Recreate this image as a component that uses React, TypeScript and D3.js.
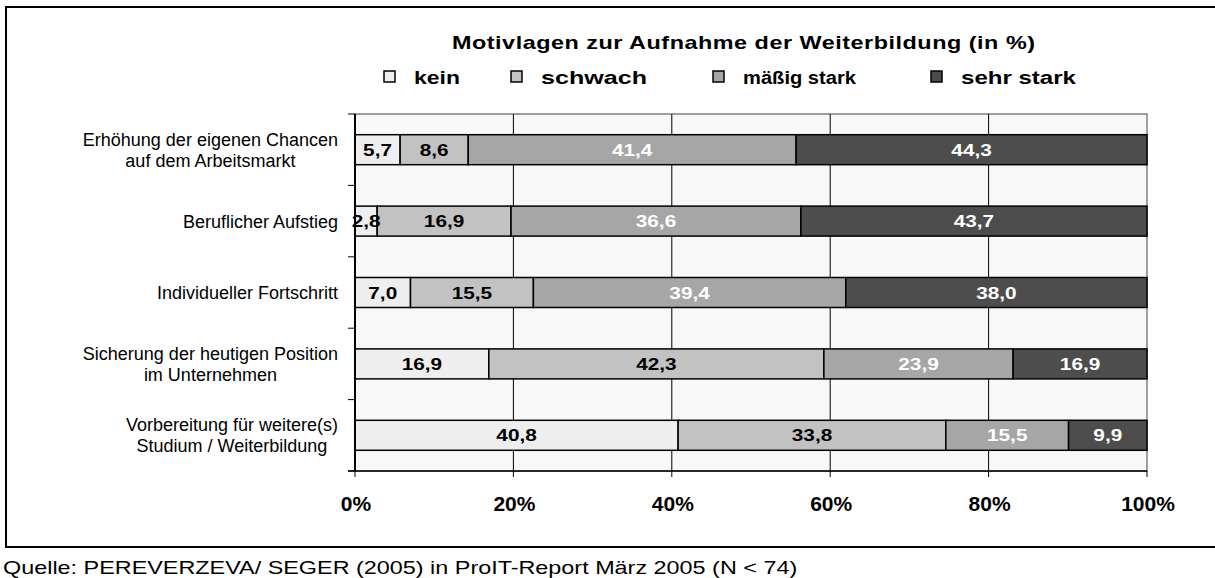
import React from "react";
import * as d3 from "d3";

const categories: string[][] = [
  ["Erhöhung der eigenen Chancen", "auf dem Arbeitsmarkt"],
  ["Beruflicher Aufstieg"],
  ["Individueller Fortschritt"],
  ["Sicherung der heutigen Position", "im Unternehmen"],
  ["Vorbereitung für weitere(s)", "Studium / Weiterbildung"],
];
const seriesNames = ["kein", "schwach", "mäßig stark", "sehr stark"];
const kein = [5.7, 2.8, 7.0, 16.9, 40.8];
const schwach = [8.6, 16.9, 15.5, 42.3, 33.8];
const maessig = [41.4, 36.6, 39.4, 23.9, 15.5];
const sehr = [44.3, 43.7, 38.0, 16.9, 9.9];
const xTicks = [0, 0.2, 0.4, 0.6, 0.8, 1];
const title = "Motivlagen zur Aufnahme der Weiterbildung (in %)";
const source = "Quelle: PEREVERZEVA/ SEGER (2005) in ProIT-Report März 2005 (N < 74)";

const colors = ["#eeeeee", "#c2c2c2", "#a6a6a6", "#4d4d4d"];
const labelColors = ["#000", "#000", "#fff", "#fff"];
const FONT = "'Liberation Sans', Arial, sans-serif";

const W = 1215;
const H = 578;
const plot = { left: 355, right: 1147, top: 114, bottom: 471 };
const SX = 1.3; // horizontal stretch of the bold texts

export default function App() {
  const rows = categories.map((c, i) => ({
    idx: i,
    kein: kein[i],
    schwach: schwach[i],
    maessig: maessig[i],
    sehr: sehr[i],
  }));
  const keys = ["kein", "schwach", "maessig", "sehr"];
  const stacked = d3.stack<any>().keys(keys).offset(d3.stackOffsetExpand)(rows);

  const x = d3.scaleLinear().domain([0, 1]).range([plot.left, plot.right]);
  const y = d3
    .scaleBand<number>()
    .domain(rows.map((r) => r.idx))
    .range([plot.top, plot.bottom])
    .paddingInner(0.58)
    .paddingOuter(0.29);
  const bandStep = (plot.bottom - plot.top) / categories.length;
  const fmt = (v: number) => v.toFixed(1).replace(".", ",");

  const legendX = [384, 511, 713, 931];
  const legendLen = [46, 106, 113, 115];

  return (
    <svg
      width={W}
      height={H}
      style={{ position: "absolute", left: 0, top: 0, background: "#fff" }}
      fontFamily={FONT}
    >
      {/* outer frame */}
      <rect x={6} y={7} width={W + 10} height={540} fill="#fff" stroke="#000" strokeWidth={2} />

      {/* title */}
      <text transform={`translate(452,49) scale(${SX},1)`} fontSize={18} fontWeight="bold" letterSpacing={0.4}>
        {title}
      </text>

      {/* legend */}
      {seriesNames.map((s, i) => (
        <g key={s}>
          <rect x={legendX[i]} y={71} width={11} height={11} fill={colors[i]} stroke="#000" strokeWidth={1.5} />
          <text
            x={legendX[i] + 30}
            y={84}
            fontSize={18}
            fontWeight="bold"
            textLength={legendLen[i]}
            lengthAdjust="spacingAndGlyphs"
          >
            {s}
          </text>
        </g>
      ))}

      {/* plot area */}
      <rect
        x={plot.left}
        y={plot.top}
        width={plot.right - plot.left}
        height={plot.bottom - plot.top}
        fill="#f8f8f8"
        stroke="#808080"
        strokeWidth={1.5}
      />
      {xTicks.slice(1, -1).map((t) => (
        <line key={t} x1={x(t)} x2={x(t)} y1={plot.top} y2={plot.bottom} stroke="#000" strokeWidth={1} />
      ))}

      {/* bars */}
      {stacked.map((layer, si) =>
        layer.map((d, ri) => {
          const x0 = x(d[0]);
          const x1 = x(d[1]);
          const yy = y(ri)!;
          return (
            <rect
              key={`${si}-${ri}`}
              x={x0}
              y={yy}
              width={x1 - x0}
              height={y.bandwidth()}
              fill={colors[si]}
              stroke="#000"
              strokeWidth={1.5}
            />
          );
        })
      )}
      {stacked.map((layer, si) =>
        layer.map((d, ri) => {
          const cx = (x(d[0]) + x(d[1])) / 2;
          const cy = y(ri)! + y.bandwidth() / 2 + 6;
          const val = [kein, schwach, maessig, sehr][si][ri];
          return (
            <text
              key={`t${si}-${ri}`}
              transform={`translate(${cx},${cy}) scale(${SX},1)`}
              textAnchor="middle"
              fontSize={16}
              fontWeight="bold"
              fill={labelColors[si]}
            >
              {fmt(val)}
            </text>
          );
        })
      )}

      {/* axes */}
      <line x1={plot.left} x2={plot.left} y1={plot.top} y2={plot.bottom} stroke="#000" strokeWidth={2} />
      <line x1={plot.left - 7} x2={plot.right} y1={plot.bottom} y2={plot.bottom} stroke="#000" strokeWidth={1.5} />
      {d3.range(categories.length + 1).map((i) => (
        <line
          key={i}
          x1={plot.left - 7}
          x2={plot.left}
          y1={plot.top + i * bandStep}
          y2={plot.top + i * bandStep}
          stroke="#000"
          strokeWidth={1}
        />
      ))}
      {xTicks.map((t) => (
        <g key={t}>
          <line x1={x(t)} x2={x(t)} y1={plot.bottom} y2={plot.bottom + 6} stroke="#000" strokeWidth={1} />
          <text x={x(t) + 1} y={511} textAnchor="middle" fontSize={21} fontWeight="bold">
            {`${Math.round(t * 100)}%`}
          </text>
        </g>
      ))}

      {/* category labels */}
      {categories.map((lines, i) => {
        const cy = y(i)! + y.bandwidth() / 2;
        const lh = 21;
        return (
          <g key={i} className="cat">
            {lines.map((l, k) => (
              <text
                key={k}
                x={338}
                y={cy + 6.5 + (k - (lines.length - 1) / 2) * lh}
                textAnchor="end"
                fontSize={18}
                ref={(el) => {
                  if (!el) return;
                  const g = el.parentNode as SVGGElement;
                  const texts = Array.from(g.querySelectorAll("text")) as SVGTextElement[];
                  const widths = texts.map((t) => t.getComputedTextLength());
                  const maxW = Math.max(...widths);
                  texts.forEach((t) => {
                    t.setAttribute("text-anchor", "middle");
                    t.setAttribute("x", String(338 - maxW / 2));
                  });
                }}
              >
                {l}
              </text>
            ))}
          </g>
        );
      })}

      {/* source */}
      <text transform={`translate(3,574) scale(${SX},1)`} fontSize={18}>
        {source}
      </text>
    </svg>
  );
}
